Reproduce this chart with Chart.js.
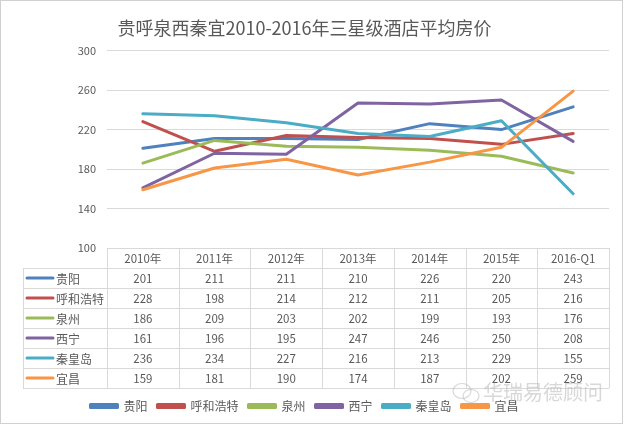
<!DOCTYPE html>
<html>
<head>
<meta charset="utf-8">
<script src="https://cdn.jsdelivr.net/npm/chart.js@4"></script>
<style>
  html, body { margin: 0; padding: 0; background: #fff; }
  #wrap { width: 624px; height: 426px; }
</style>
</head>
<body>
<div id="wrap"><canvas id="chart" width="624" height="426"></canvas></div>
<script>
// 数据
const years = ["2010年", "2011年", "2012年", "2013年", "2014年", "2015年", "2016-Q1"];
const cities = ["贵阳", "呼和浩特", "泉州", "西宁", "秦皇岛", "宜昌"];
const guiyang = [201, 211, 211, 210, 226, 220, 243];
const huhehaote = [228, 198, 214, 212, 211, 205, 216];
const quanzhou = [186, 209, 203, 202, 199, 193, 176];
const xining = [161, 196, 195, 247, 246, 250, 208];
const qinhuangdao = [236, 234, 227, 216, 213, 229, 155];
const yichang = [159, 181, 190, 174, 187, 202, 259];
const yTicks = [100, 140, 180, 220, 260, 300];

const seriesValues = [guiyang, huhehaote, quanzhou, xining, qinhuangdao, yichang];
const colors = ["#4F81BD", "#C0504D", "#9BBB59", "#8064A2", "#4BACC6", "#F79646"];

const fontName = "'Noto Sans CJK SC', 'Noto Sans', sans-serif";
const gridColor = "#D9D9D9";
const textColor = "#595959";

// 外框 + 白底
const frame = {
  id: 'frame',
  beforeDraw(chart) {
    const c = chart.ctx;
    c.save();
    c.fillStyle = "#fff";
    c.fillRect(0, 0, chart.width, chart.height);
    c.strokeStyle = "#D0D0D0";
    c.lineWidth = 1;
    c.strokeRect(0.5, 0.5, 622, 423);
    c.restore();
  }
};

// 下面的数据表
const dataTable = {
  id: 'dataTable',
  afterDraw(chart) {
    const c = chart.ctx;
    const xs = chart.scales.x;
    const area = chart.chartArea;
    const colW = (area.right - area.left) / years.length;
    const top = area.bottom;
    const rowH = 20;
    const leftX = 23;
    const bottom = top + rowH * (cities.length + 1);

    c.save();
    c.strokeStyle = gridColor;
    c.lineWidth = 1;
    c.beginPath();
    // 横线
    c.moveTo(area.left, top + 0.5);
    c.lineTo(area.right, top + 0.5);
    for (let r = 1; r <= cities.length + 1; r++) {
      const y = Math.round(top + r * rowH) + 0.5;
      c.moveTo(leftX, y);
      c.lineTo(area.right, y);
    }
    // 竖线
    for (let i = 0; i <= years.length; i++) {
      const x = Math.round(area.left + i * colW) + 0.5;
      c.moveTo(x, top);
      c.lineTo(x, bottom);
    }
    c.moveTo(leftX + 0.5, top + rowH);
    c.lineTo(leftX + 0.5, bottom);
    c.stroke();

    c.fillStyle = textColor;
    c.font = "11.5px " + fontName;
    c.textAlign = 'center';
    c.textBaseline = 'middle';
    years.forEach((y, i) => {
      c.fillText(y, xs.getPixelForValue(i), top + rowH / 2 + 1);
    });

    cities.forEach((name, r) => {
      const cy = top + rowH * (r + 1) + rowH / 2;
      c.strokeStyle = colors[r];
      c.lineWidth = 3;
      c.lineCap = 'round';
      c.beginPath();
      c.moveTo(27, cy);
      c.lineTo(53, cy);
      c.stroke();
      c.fillStyle = textColor;
      c.textAlign = 'left';
      c.font = "12px " + fontName;
      c.fillText(name, 56, cy + 1);
      c.textAlign = 'center';
      c.font = "11.5px " + fontName;
      seriesValues[r].forEach((v, i) => {
        c.fillText(String(v), xs.getPixelForValue(i), cy + 1);
      });
    });

    // 水印
    c.globalAlpha = 0.55;
    c.strokeStyle = "#B8B8B8";
    c.lineWidth = 1.2;
    c.beginPath();
    c.ellipse(462, 391, 9, 7.5, 0, 0, Math.PI * 2);
    c.stroke();
    c.beginPath();
    c.ellipse(471, 396, 8, 6.5, 0, 0, Math.PI * 2);
    c.stroke();
    c.fillStyle = "#B8B8B8";
    c.font = "20px " + fontName;
    c.textAlign = 'left';
    c.fillText("华瑞易德顾问", 483, 392);
    c.restore();
  }
};

const datasets = cities.map((name, i) => ({
  label: name,
  data: seriesValues[i],
  borderColor: colors[i],
  backgroundColor: colors[i],
  borderWidth: 3,
  pointRadius: 0,
  tension: 0,
  borderCapStyle: 'round',
  borderJoinStyle: 'round',
  order: -i
}));

const config = {
  type: 'line',
  data: { labels: years, datasets: datasets },
  plugins: [frame, dataTable],
  options: {
    responsive: false,
    animation: false,
    layout: { padding: { left: 0, right: 15, top: 0, bottom: 4 } },
    scales: {
      x: {
        offset: true,
        grid: { display: false, drawTicks: false },
        border: { display: false },
        ticks: { display: false },
        afterFit(scale) { scale.height = 142; }
      },
      y: {
        min: 100,
        max: 300,
        afterBuildTicks(scale) { scale.ticks = yTicks.map(v => ({ value: v })); },
        afterFit(scale) { scale.width = 107; },
        grid: { color: gridColor, drawTicks: false },
        border: { display: false },
        ticks: { color: textColor, padding: 11, font: { size: 11, family: fontName } }
      }
    },
    plugins: {
      title: {
        display: true,
        text: "贵呼泉西秦宜2010-2016年三星级酒店平均房价",
        color: textColor,
        font: { size: 18, family: fontName, weight: 'normal' },
        padding: { top: 17, bottom: 12 }
      },
      legend: {
        position: 'bottom',
        labels: {
          boxWidth: 27,
          boxHeight: 3,
          padding: 10,
          color: textColor,
          font: { size: 12, family: fontName },
          sort: (a, b) => a.datasetIndex - b.datasetIndex
        }
      },
      tooltip: { enabled: false }
    }
  }
};

new Chart(document.getElementById('chart'), config);
</script>
</body>
</html>
